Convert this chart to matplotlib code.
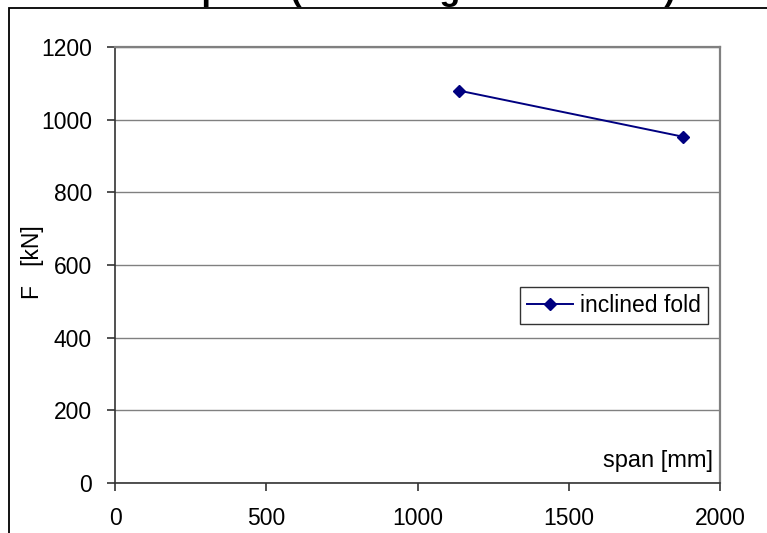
import matplotlib.pyplot as plt
from matplotlib.patches import Rectangle

span_mm = [1137, 1878]
force_kn = [1080, 953]

x_ticks = [0, 500, 1000, 1500, 2000]
y_ticks = [0, 200, 400, 600, 800, 1000, 1200]

navy = "#000080"
grey = "#808080"

plt.rcParams["font.family"] = ["Liberation Sans", "DejaVu Sans"]

fig = plt.figure(figsize=(7.67, 5.33), dpi=100)

# outer chart frame
fig.patches.append(Rectangle((9 / 767, -0.1), 1.2, 1 - 8 / 533 + 0.1,
                             transform=fig.transFigure, fill=False,
                             edgecolor="black", linewidth=1.3))

# chart title, mostly cut off by the top edge
fig.text(0.487, 1.0, "Load - spans (inclined girder models)", fontsize=24.5,
         fontweight="bold", ha="center", va="baseline")

ax = fig.add_axes([115 / 767, 1 - 483 / 533, 605 / 767, 436 / 533])
ax.plot(span_mm, force_kn, color=navy, linewidth=1.4, marker="D",
        markersize=6, label="inclined fold")

ax.set_xlim(0, 2000)
ax.set_ylim(0, 1200)
ax.set_xticks(x_ticks)
ax.set_yticks(y_ticks)
ax.tick_params(labelsize=16.5, length=5.5, width=1.2, color="#333333")
ax.tick_params(axis="y", pad=11)
ax.tick_params(axis="x", pad=12)

ax.grid(axis="y", color=grey, linewidth=1)
ax.set_axisbelow(True)
for side in ["left", "bottom"]:
    ax.spines[side].set_color("#333333")
    ax.spines[side].set_linewidth(1.2)
for side in ["top", "right"]:
    ax.spines[side].set_color(grey)
    ax.spines[side].set_linewidth(1.6)

ax.set_ylabel("F   [kN]", fontsize=16.5)
ax.yaxis.set_label_coords(-0.117, 0.506)
ax.text(0.988, 0.05, "span [mm]", transform=ax.transAxes, fontsize=17,
        ha="right", va="center")

leg = ax.legend(loc="center", bbox_to_anchor=(614 / 767, 1 - 305.5 / 533),
                bbox_transform=fig.transFigure, fontsize=16.5, frameon=True,
                fancybox=False, edgecolor="black", handlelength=2.0,
                handletextpad=0.3, borderpad=0.3, borderaxespad=0)
leg.get_frame().set_linewidth(1)

fig.savefig("out.png", dpi=100)
